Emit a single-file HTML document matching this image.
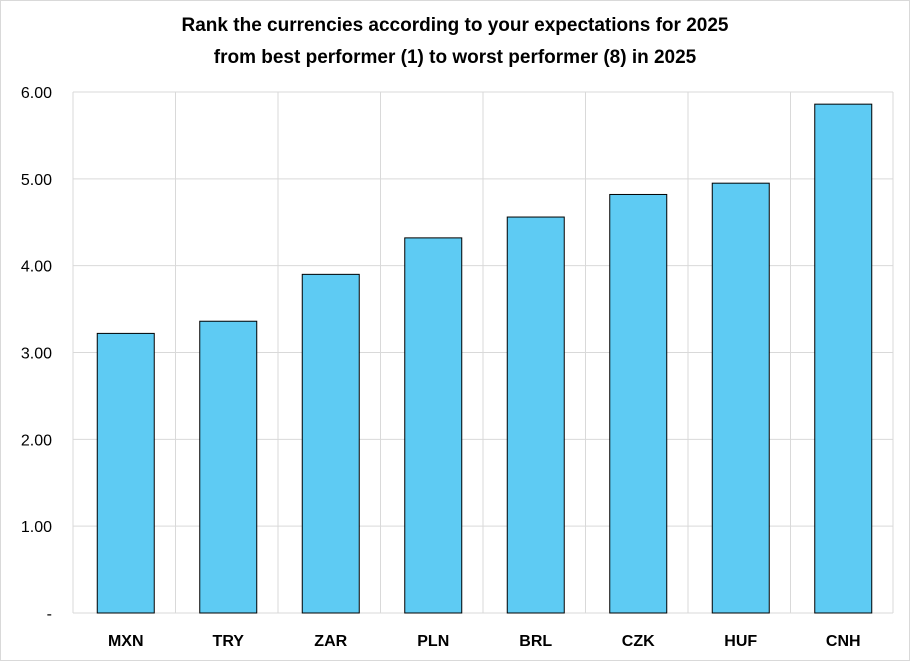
<!DOCTYPE html>
<html><head><meta charset="utf-8"><style>
html,body{margin:0;padding:0;background:#fff;}
svg{display:block;font-family:"Liberation Sans",sans-serif;}
</style></head><body>
<svg id="chart" width="910" height="661" viewBox="0 0 910 661" xmlns="http://www.w3.org/2000/svg">
<rect x="0.5" y="0.5" width="909" height="660" fill="#fff" stroke="#d9d9d9"/>
<text x="455" y="31" text-anchor="middle" font-size="19" font-weight="bold" fill="#000">Rank the currencies according to your expectations for 2025</text>
<text x="455" y="63" text-anchor="middle" font-size="19" font-weight="bold" fill="#000">from best performer (1) to worst performer (8) in 2025</text>
<g id="grid"></g>
<g id="bars"></g>
<g id="yticks"></g>
<g id="xticks"></g>
</svg>
<script>
const categories = ["MXN","TRY","ZAR","PLN","BRL","CZK","HUF","CNH"];
const values = [3.22,3.36,3.90,4.32,4.56,4.82,4.95,5.86];
const yTicks = [0,1,2,3,4,5,6];
const yTickLabels = ["-","1.00","2.00","3.00","4.00","5.00","6.00"];

const NS="http://www.w3.org/2000/svg";
const L=73,R=893,T=92,B=613,yMax=6;
const bw=(R-L)/categories.length;
const y=v=>B-(v/yMax)*(B-T);
const x=i=>L+i*bw;
function mk(tag,attrs,parent){const e=document.createElementNS(NS,tag);for(const k in attrs)e.setAttribute(k,attrs[k]);parent.appendChild(e);return e;}
const grid=document.getElementById('grid'),bars=document.getElementById('bars'),yt=document.getElementById('yticks'),xt=document.getElementById('xticks');
yTicks.forEach((t,i)=>{
  const ln=mk('line',{x1:L,x2:R,y1:y(t),y2:y(t),stroke:'#d9d9d9','stroke-width':1},grid);
  
  
  const tx=mk('text',{x:52,y:y(t)+6,'text-anchor':'end','font-size':16,fill:'#000'},yt);
  tx.textContent=yTickLabels[i];
  
  
});
for(let i=0;i<=categories.length;i++){
  const ln=mk('line',{x1:x(i),x2:x(i),y1:T,y2:B,stroke:'#d9d9d9','stroke-width':1},grid);
  
  
}
categories.forEach((c,i)=>{
  const w=57,cx=x(i)+bw/2+1.5;
  const r=mk('rect',{x:cx-w/2,y:y(values[i]),width:w,height:B-y(values[i]),fill:'#5ecbf3',stroke:'#000','stroke-width':1},bars);
  
  
  const tx=mk('text',{x:cx,y:646,'text-anchor':'middle','font-size':16,'font-weight':'bold',fill:'#000'},xt);
  tx.textContent=c;
  
  
});
</script>
</body></html>
